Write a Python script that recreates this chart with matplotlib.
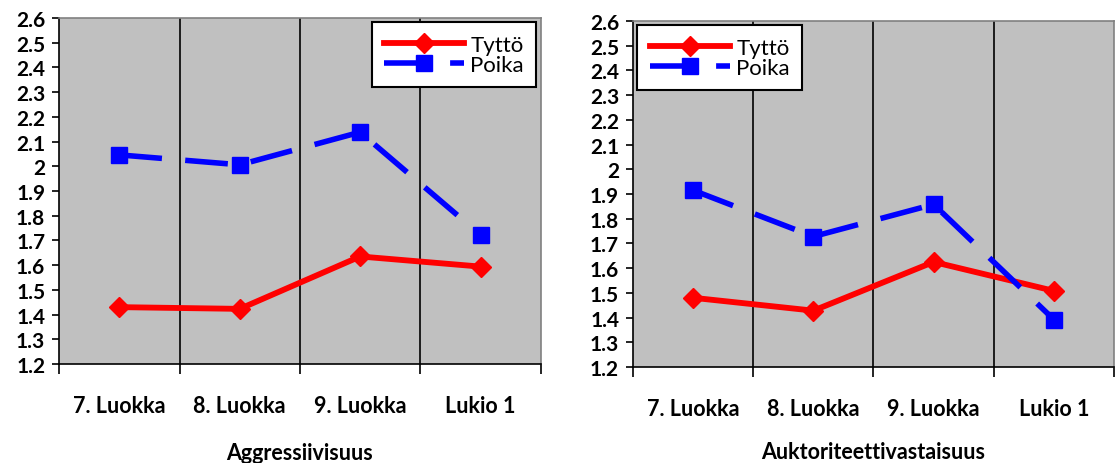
import numpy as np
import matplotlib
matplotlib.use('Agg')
import matplotlib.pyplot as plt

plt.rcParams['font.family'] = ['Lato', 'DejaVu Sans']

categories = ['7. Luokka', '8. Luokka', '9. Luokka', 'Lukio 1']
y_ticks = [1.2, 1.3, 1.4, 1.5, 1.6, 1.7, 1.8, 1.9, 2.0, 2.1, 2.2, 2.3, 2.4, 2.5, 2.6]
y_ticklabels = ['1.2', '1.3', '1.4', '1.5', '1.6', '1.7', '1.8', '1.9', '2',
                '2.1', '2.2', '2.3', '2.4', '2.5', '2.6']

aggr_tytto = [1.43, 1.423, 1.635, 1.594]
aggr_poika = [2.046, 2.006, 2.138, 1.722]
aukt_tytto = [1.48, 1.428, 1.625, 1.508]
aukt_poika = [1.915, 1.728, 1.858, 1.392]

panels = [
    ('Aggressiivisuus', aggr_tytto, aggr_poika, [0.053, 0.2134, 0.432, 0.7457], 'upper right', 19),
    ('Auktoriteettivastaisuus', aukt_tytto, aukt_poika, [0.5677, 0.2069, 0.4314, 0.7457], 'upper left', 16),
]

fig = plt.figure(figsize=(11.15, 4.64), dpi=100)

for title, tytto, poika, rect, loc, lpad in panels:
    ax = fig.add_axes(rect)
    ax.set_facecolor('#c0c0c0')
    x = np.arange(len(categories))
    ax.plot(x, tytto, color='#ff0000', lw=4.2, marker='D', ms=10,
            label='Tyttö', zorder=3)
    ax.plot(x, poika, color='#0000ff', lw=4, marker='s', ms=11,
            dashes=(7.7, 4.2), label='Poika', zorder=3)
    for b in [0.5, 1.5, 2.5]:
        ax.axvline(b, color='black', lw=1.2, zorder=1)
    ax.set_xlim(-0.5, 3.5)
    ax.set_ylim(1.2, 2.6)
    ax.set_yticks(y_ticks)
    ax.set_yticklabels(y_ticklabels, fontweight='bold', fontsize=15)
    ax.set_xticks(x)
    ax.set_xticklabels(categories, fontweight='bold', fontsize=15.5)
    ax.set_xticks([-0.5, 0.5, 1.5, 2.5, 3.5], minor=True)
    ax.tick_params(axis='x', which='major', length=0, pad=22)
    ax.tick_params(axis='x', which='minor', length=7, width=1.2, direction='out')
    ax.tick_params(axis='y', length=5, width=1.2, direction='out', pad=5)
    ax.set_xlabel(title, fontweight='bold', fontsize=15.5, labelpad=lpad)
    for s in ['left', 'bottom']:
        ax.spines[s].set_color('black')
        ax.spines[s].set_linewidth(1.2)
    for s in ['top', 'right']:
        ax.spines[s].set_color('#808080')
        ax.spines[s].set_linewidth(1.2)
    leg = ax.legend(loc=loc, fontsize=16, handlelength=3.6, handletextpad=0.3,
                    labelspacing=0.0, borderpad=0.55, fancybox=False,
                    framealpha=1, edgecolor='black', borderaxespad=0.2)
    leg.get_frame().set_linewidth(1.5)

fig.savefig('out.png', dpi=100)
